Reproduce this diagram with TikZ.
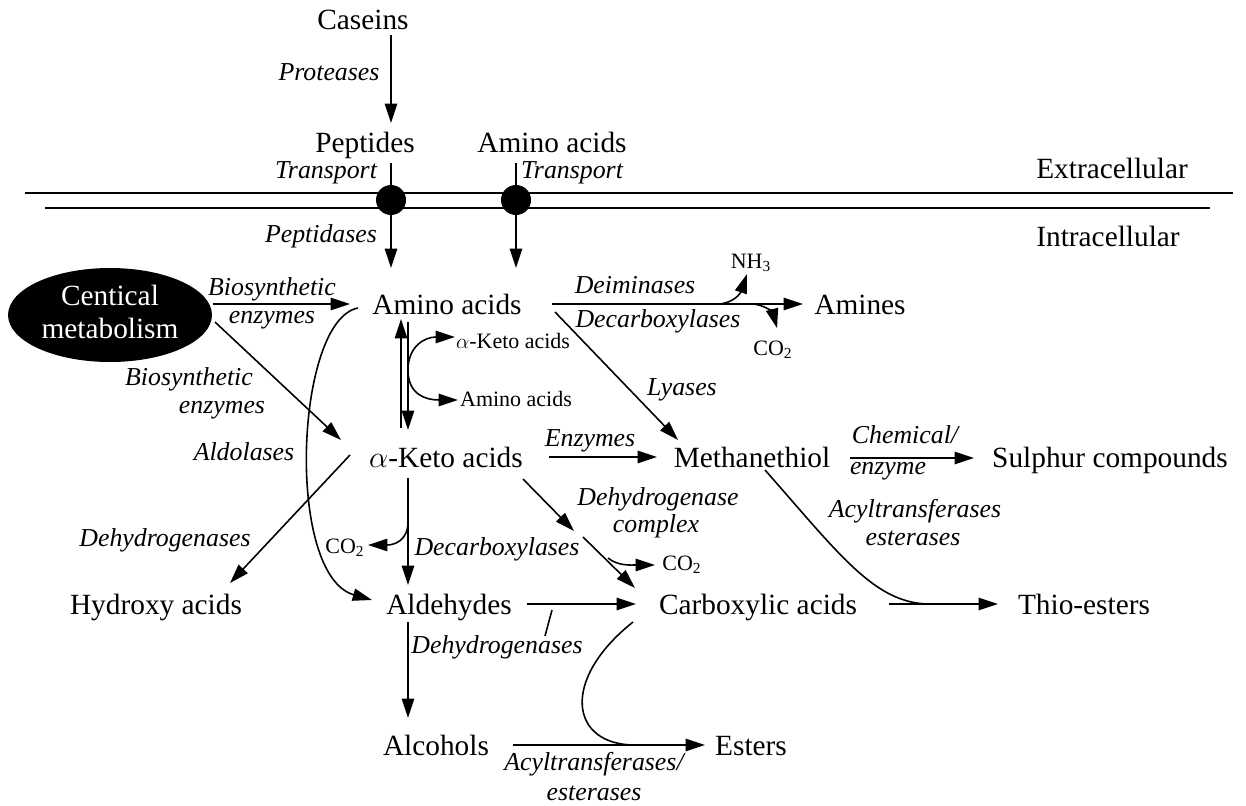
\documentclass[tikz,border=0pt]{standalone}
\usepackage{fontspec}
\setmainfont{Liberation Serif}
\usetikzlibrary{arrows.meta,shapes.geometric}
\tikzset{
  mn/.style={font=\fontsize{16.7}{19}\selectfont, inner sep=0pt, anchor=base},
  it/.style={font=\fontsize{14.7}{17}\selectfont\itshape, inner sep=0pt, anchor=base},
  sm/.style={font=\fontsize{12.5}{14}\selectfont, inner sep=0pt, anchor=base},
  wt/.style={mn, text=white},
  arr/.style={-{Triangle[length=11pt,width=7pt]}, line width=0.9pt},
  ln/.style={line width=0.9pt},
  dot/.style={circle, fill=black, inner sep=0pt, minimum size=0.6cm},
  ell/.style={ellipse, fill=black, inner sep=0pt, minimum width=4.08cm, minimum height=1.88cm},
}
\begin{document}
\begin{tikzpicture}[x=0.02cm,y=-0.02cm]
\useasboundingbox (0,0) rectangle (1246,805);

% ---------- text nodes ----------
\node[mn] (caseins) at (363,29) {Caseins};
\node[it] (proteases) at (329,80) {Proteases};
\node[mn] (peptides) at (365,152) {Peptides};
\node[mn] (aaTop) at (552,152) {Amino acids};
\node[it] (trL) at (326,178) {Transport};
\node[it] (trR) at (572,178) {Transport};
\node[mn] (extra) at (1112,178) {Extracellular};
\node[mn] (intra) at (1108,246) {Intracellular};
\node[it] (peptidases) at (321,242) {Peptidases};

\node[ell] (cm) at (110,315) {};
\node[wt] (cmA) at (110,305) {Centical};
\node[wt] (cmB) at (110,338) {metabolism};

\node[it] (bio1) at (272,295) {Biosynthetic};
\node[it] (enz1) at (272,323) {enzymes};
\node[it] (bio2) at (189,385) {Biosynthetic};
\node[it] (enz2) at (222,413) {enzymes};
\node[it] (aldol) at (244,460) {Aldolases};
\node[it] (dehL) at (165,546) {Dehydrogenases};

\node[mn] (aa) at (447,314) {Amino acids};
\node[sm] (kSmall) at (513,348) {$\alpha$-Keto acids};
\node[sm] (aSmall) at (516,406) {Amino acids};
\node[it] (deim) at (635,293) {Deiminases};
\node[it] (decA) at (658,327) {Decarboxylases};
\node[sm] (nh3) at (751,268) {NH\textsubscript{3}};
\node[sm] (co2a) at (773,355) {CO\textsubscript{2}};
\node[mn] (amines) at (860,314) {Amines};
\node[it] (lyases) at (682,395) {Lyases};

\node[mn] (keto) at (446,467) {$\alpha$-Keto acids};
\node[it] (enzy) at (590,446) {Enzymes};
\node[mn] (meth) at (752,467) {Methanethiol};
\node[it] (chem) at (905,443) {Chemical/};
\node[it] (enzm) at (888,474) {enzyme};
\node[mn] (sulph) at (1110,467) {Sulphur compounds};

\node[it] (dhc1) at (658,505) {Dehydrogenase};
\node[it] (dhc2) at (656,532) {complex};
\node[it] (acy1) at (915,517) {Acyltransferases};
\node[it] (est1) at (913,545) {esterases};
\node[sm] (co2b) at (345,553) {CO\textsubscript{2}};
\node[it] (decB) at (497,555) {Decarboxylases};
\node[sm] (co2c) at (682,570) {CO\textsubscript{2}};

\node[mn] (hydroxy) at (156,614) {Hydroxy acids};
\node[mn] (ald) at (449,614) {Aldehydes};
\node[mn] (carb) at (758,614) {Carboxylic acids};
\node[mn] (thio) at (1084,614) {Thio-esters};
\node[it] (dehB) at (497,653) {Dehydrogenases};

\node[mn] (alc) at (436,755) {Alcohols};
\node[mn] (esters) at (751,755) {Esters};
\node[it] (acy2) at (594,770) {Acyltransferases/};
\node[it] (est2) at (594,800) {esterases};

% ---------- membrane ----------
\coordinate (mA) at (25,193);   \coordinate (mB) at (1233,193);
\coordinate (mC) at (45,208);   \coordinate (mD) at (1210,208);
\draw[ln] (mA) -- (mB);
\draw[ln] (mC) -- (mD);
\node[dot] (ch1) at (391,200) {};
\node[dot] (ch2) at (516,200) {};

% ---------- connector end points ----------
\coordinate (c1) at (391,35);   \coordinate (c2) at (391,123);
\coordinate (m1) at (391,163);  \coordinate (m2) at (391,268);
\coordinate (m3) at (516,163);  \coordinate (m4) at (516,268);
\coordinate (b1) at (213,304);  \coordinate (b2) at (350,304);
\coordinate (b3) at (215,322);  \coordinate (b4) at (341,440);
\coordinate (u1) at (401,428);  \coordinate (u2) at (401,319);
\coordinate (d1) at (408,322);  \coordinate (d2) at (408,430);
\coordinate (L0) at (408,370);  \coordinate (L1) at (455,337);  \coordinate (L2) at (458,400);
\coordinate (h1) at (552,304);  \coordinate (h2) at (803,304);
\coordinate (n1) at (717,304);  \coordinate (n2) at (747,274);
\coordinate (k1) at (753,304);  \coordinate (k2) at (777,328);
\coordinate (y1) at (555,312);  \coordinate (y2) at (678,440);
\coordinate (e1) at (549,457);  \coordinate (e2) at (657,457);
\coordinate (s1) at (850,458);  \coordinate (s2) at (974,458);
\coordinate (hy1) at (350,455); \coordinate (hy2) at (230,583);
\coordinate (cv1) at (358,308); \coordinate (cv2) at (372,600);
\coordinate (ka1) at (408,478); \coordinate (ka2) at (408,585);
\coordinate (kb1) at (408,522); \coordinate (kb2) at (368,545);
\coordinate (dc1) at (523,479); \coordinate (dc2) at (574,531);
\coordinate (dc3) at (583,537); \coordinate (dc4) at (635,588);
\coordinate (db1) at (608,558); \coordinate (db2) at (655,565);
\coordinate (ac1) at (527,604); \coordinate (ac2) at (636,604);
\coordinate (sl1) at (552,610); \coordinate (sl2) at (545,636);
\coordinate (al1) at (408,622); \coordinate (al2) at (408,718);
\coordinate (ct1) at (889,604); \coordinate (ct2) at (998,604);
\coordinate (mt1) at (765,470); \coordinate (mt2) at (930,604);
\coordinate (ae1) at (513,745); \coordinate (ae2) at (705,745);
\coordinate (ce1) at (633,622); \coordinate (ce2) at (635,745);

% ---------- connectors ----------
\draw[arr] (c1) -- (c2);
\draw[ln] (m1) -- (ch1);
\draw[arr] (ch1) -- (m2);
\draw[ln] (m3) -- (ch2);
\draw[arr] (ch2) -- (m4);

\draw[arr] (b1) -- (b2);
\draw[arr] (b3) -- (b4);

\draw[arr] (u1) -- (u2);
\draw[arr] (d1) -- (d2);
\draw[arr] (L0) .. controls (408,346) and (425,337) .. (L1);
\draw[arr] (L0) .. controls (408,394) and (425,400) .. (L2);

\draw[arr] (h1) -- (h2);
\draw[arr] (n1) .. controls (734,304) and (741,292) .. (n2);
\draw[arr] (k1) .. controls (765,305) and (773,313) .. (k2);
\draw[arr] (y1) -- (y2);

\draw[arr] (e1) -- (e2);
\draw[arr] (s1) -- (s2);
\draw[arr] (hy1) -- (hy2);
\draw[arr] (cv1) .. controls (295,320) and (285,575) .. (cv2);

\draw[arr] (ka1) -- (ka2);
\draw[arr] (kb1) .. controls (408,540) and (395,545) .. (kb2);
\draw[arr] (dc1) -- (dc2);
\draw[arr] (dc3) -- (dc4);
\draw[arr] (db1) .. controls (618,566) and (630,565) .. (db2);

\draw[arr] (ac1) -- (ac2);
\draw[ln] (sl1) -- (sl2);
\draw[arr] (al1) -- (al2);
\draw[arr] (ct1) -- (ct2);
\draw[ln] (mt1) .. controls (840,555) and (875,604) .. (mt2);

\draw[arr] (ae1) -- (ae2);
\draw[ln] (ce1) .. controls (560,680) and (570,745) .. (ce2);
\end{tikzpicture}
\end{document}
